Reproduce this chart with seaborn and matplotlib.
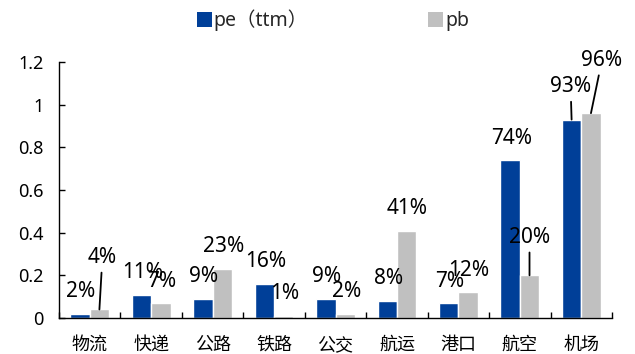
import matplotlib
matplotlib.use("Agg")
import matplotlib.pyplot as plt
import matplotlib.patches as mpatches
import pandas as pd
import seaborn as sns

# Valuation percentiles by transport sub-sector
categories = ["物流", "快递", "公路", "铁路", "公交", "航运", "港口", "航空", "机场"]
pe_ttm = [0.02, 0.11, 0.09, 0.16, 0.09, 0.08, 0.07, 0.74, 0.93]
pb = [0.04, 0.07, 0.23, 0.01, 0.02, 0.41, 0.12, 0.20, 0.96]
series_names = ["pe（ttm）", "pb"]
y_ticks = [0, 0.2, 0.4, 0.6, 0.8, 1.0, 1.2]
y_tick_labels = ["0", "0.2", "0.4", "0.6", "0.8", "1", "1.2"]

BLUE = "#003F98"
GREY = "#C0C0C0"

df = pd.DataFrame({
    "行业": categories * 2,
    "指标": [series_names[0]] * len(categories) + [series_names[1]] * len(categories),
    "分位": pe_ttm + pb,
})

sns.set_theme(style="white")
plt.rcParams["font.family"] = ["Noto Sans", "Noto Sans CJK SC", "DejaVu Sans"]

W, H = 635, 354
fig = plt.figure(figsize=(W / 100, H / 100), dpi=100)
ax = fig.add_axes([59 / W, 1 - 318 / H, (612 - 59) / W, (318 - 62) / H])

sns.barplot(data=df, x="行业", y="分位", hue="指标", palette=[BLUE, GREY],
            width=0.63, gap=0, saturation=1, ax=ax, legend=True)
ax.get_legend().remove()

ax.set_xlim(-0.5, len(categories) - 0.5)
ax.set_ylim(0, 1.2)
ax.set_yticks(y_ticks)
ax.set_yticklabels(y_tick_labels, fontsize=13, color="black")
ax.set_xlabel("")
ax.set_ylabel("")
for lab in ax.get_xticklabels():
    lab.set_family(["Noto Sans CJK SC"])
    lab.set_fontsize(13)
    lab.set_color("black")

for side in ("top", "right"):
    ax.spines[side].set_visible(False)
for side in ("left", "bottom"):
    ax.spines[side].set_color("black")
    ax.spines[side].set_linewidth(1.0)

ax.tick_params(axis="y", direction="in", length=4.5, width=1, color="black",
               pad=11, left=True)
ax.tick_params(axis="x", which="major", length=0, pad=13)
ax.set_xticks([i + 0.5 for i in range(-1, len(categories))], minor=True)
ax.tick_params(axis="x", which="minor", direction="in", length=4, width=1,
               color="black", bottom=True)

# value labels; a few are lifted with a leader line to keep them clear
default_offset = (1, 22)
lifted = {
    (1, 0): (3, 52),
    (1, 7): (0, 38),
    (0, 8): (-1, 33),
    (1, 8): (11, 53),
}
for s, (container, values) in enumerate(zip(ax.containers, [pe_ttm, pb])):
    for c, (bar, v) in enumerate(zip(container, values)):
        x = bar.get_x() + bar.get_width() / 2
        text = f"{round(v * 100)}%"
        if (s, c) in lifted:
            dx, dy = lifted[(s, c)]
            ax.annotate(text, xy=(x, v), xytext=(dx, dy), textcoords="offset pixels",
                        ha="center", va="center", fontsize=15, color="black",
                        arrowprops=dict(arrowstyle="-", color="black", lw=1.3,
                                        shrinkA=1, shrinkB=0))
        else:
            dx, dy = default_offset
            ax.annotate(text, xy=(x, v), xytext=(dx, dy), textcoords="offset pixels",
                        ha="center", va="center", fontsize=15, color="black")

handles = [mpatches.Patch(facecolor=BLUE, edgecolor="none"),
           mpatches.Patch(facecolor=GREY, edgecolor="none")]
fig.legend(handles, series_names, loc="center", bbox_to_anchor=(333 / W, 1 - 20 / H),
           ncol=2, frameon=False, handlelength=0.75, handleheight=0.8,
           handletextpad=0.1, columnspacing=6.2,
           prop={"family": ["Noto Sans", "Noto Sans CJK SC"], "size": 14})

fig.savefig("out.png", dpi=100)
